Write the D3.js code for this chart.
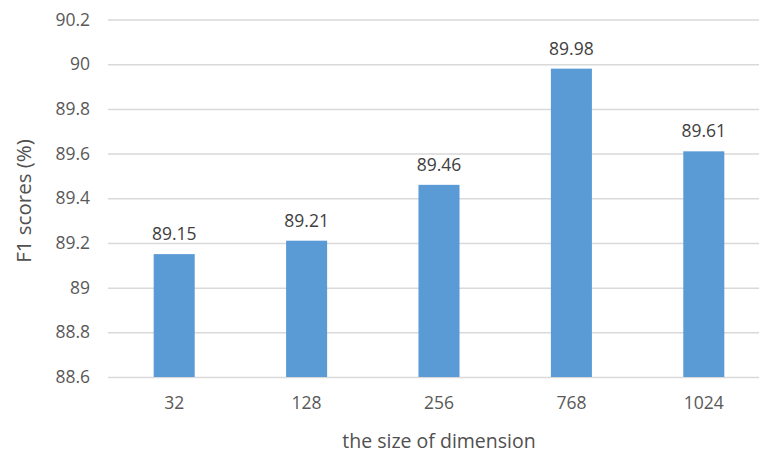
<!DOCTYPE html>
<html>
<head>
<meta charset="utf-8">
<script src="https://cdn.jsdelivr.net/npm/d3@7"></script>
<style>
  html, body { margin: 0; padding: 0; background: #fff; }
  svg { display: block; }
</style>
</head>
<body>
<svg id="chart" width="759" height="453"></svg>
<script>
// F1 score by embedding dimension
const dimensions = ["32", "128", "256", "768", "1024"];
const f1Scores = [89.15, 89.21, 89.46, 89.98, 89.61];
const yTicks = [88.6, 88.8, 89, 89.2, 89.4, 89.6, 89.8, 90, 90.2];

const svg = d3.select("#chart");
const font = "'Open Sans', 'Noto Sans', sans-serif";

const plot = { left: 108, right: 770, top: 19.5, bottom: 377 };

const x = d3.scaleBand()
  .domain(dimensions)
  .range([plot.left, plot.right])
  .paddingInner(0.69)
  .paddingOuter(0.345);

const y = d3.scaleLinear()
  .domain([88.6, 90.2])
  .range([plot.bottom, plot.top]);

// horizontal gridlines + y tick labels
const yAxis = d3.axisLeft(y)
  .tickValues(yTicks)
  .tickSize(-(plot.right - plot.left))
  .tickPadding(18)
  .tickFormat(d => String(+d.toFixed(1)));

const gy = svg.append("g")
  .attr("transform", `translate(${plot.left},0)`)
  .call(yAxis);
gy.select(".domain").remove();
gy.selectAll(".tick line").attr("stroke", "#d9d9d9").attr("stroke-width", 1.5);
gy.selectAll(".tick text")
  .attr("fill", "#595959")
  .style("font-family", font)
  .style("font-size", "17.5px");

// bars
svg.append("g").selectAll("rect")
  .data(dimensions)
  .join("rect")
  .attr("x", (d) => x(d))
  .attr("width", x.bandwidth())
  .attr("y", (d, i) => y(f1Scores[i]))
  .attr("height", (d, i) => y(88.6) - y(f1Scores[i]))
  .attr("fill", "#5b9bd5");

// value labels
svg.append("g").selectAll("text")
  .data(dimensions)
  .join("text")
  .attr("x", d => x(d) + x.bandwidth() / 2)
  .attr("y", (d, i) => y(f1Scores[i]) - 14)
  .attr("text-anchor", "middle")
  .attr("fill", "#404040")
  .style("font-family", font)
  .style("font-size", "17.5px")
  .text((d, i) => f1Scores[i].toFixed(2));

// x category labels
const xAxis = d3.axisBottom(x).tickSize(0).tickPadding(20);
const gx = svg.append("g")
  .attr("transform", `translate(0,${plot.bottom})`)
  .call(xAxis);
gx.select(".domain").remove();
gx.selectAll(".tick text")
  .attr("fill", "#595959")
  .style("font-family", font)
  .style("font-size", "17.5px");

// axis titles
svg.append("text")
  .attr("x", (plot.left + plot.right) / 2)
  .attr("y", 448)
  .attr("text-anchor", "middle")
  .attr("fill", "#505050")
  .style("font-family", font)
  .style("font-size", "19.5px")
  .text("the size of dimension");

svg.append("text")
  .attr("transform", `translate(31,201) rotate(-90)`)
  .attr("text-anchor", "middle")
  .attr("fill", "#505050")
  .style("font-family", font)
  .style("font-size", "20.5px")
  .text("F1 scores (%)");
</script>
</body>
</html>
